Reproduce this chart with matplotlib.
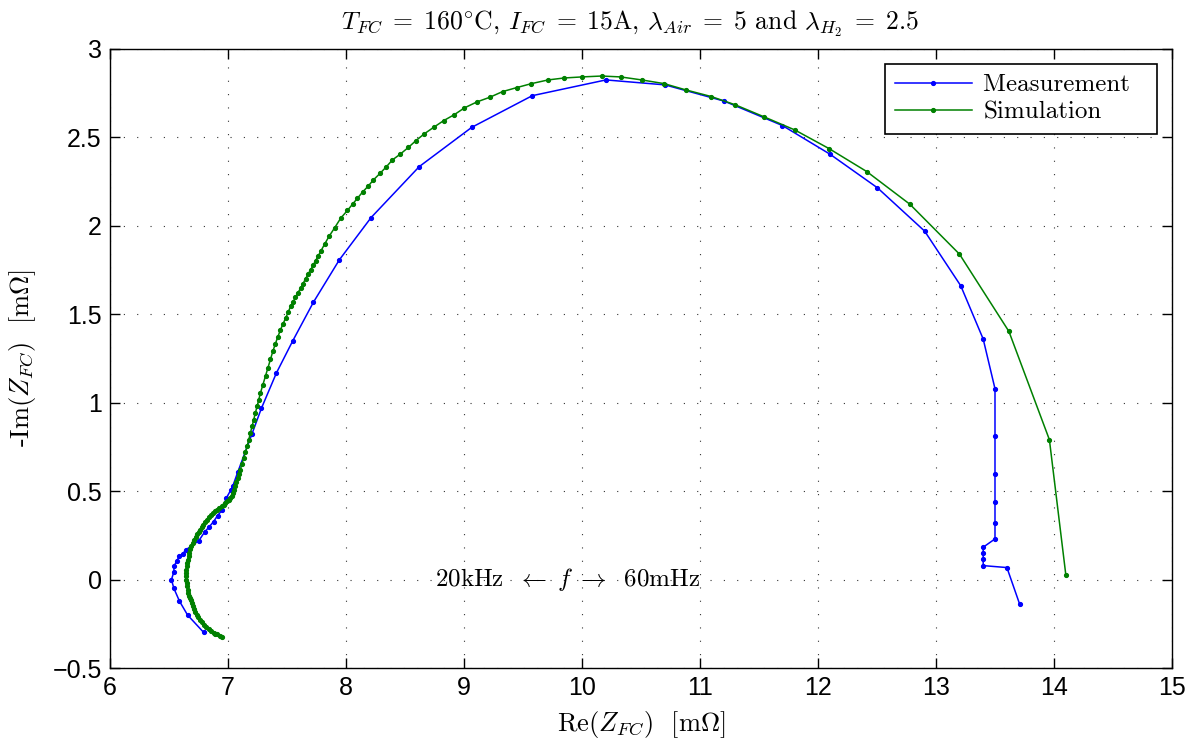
import matplotlib
matplotlib.use('Agg')
import matplotlib.pyplot as plt

# =====================================================
# DATA
# =====================================================

meas_re = [6.793, 6.657, 6.589, 6.541, 6.521, 6.541, 6.543, 6.566, 6.589, 6.617,
           6.645, 6.753, 6.804, 6.838, 6.878, 6.912, 6.949, 6.986, 7.025, 7.042,
           7.082, 7.204, 7.283, 7.411, 7.549, 7.723, 7.944, 8.213, 8.621, 9.066,
           9.579, 10.203, 10.704, 11.206, 11.699, 12.102, 12.504, 12.904, 13.21, 13.4,
           13.5, 13.5, 13.5, 13.5, 13.5, 13.5, 13.4, 13.4, 13.4, 13.4,
           13.601, 13.709]
meas_im = [-0.298, -0.200, -0.122, -0.049, 0.0, 0.043, 0.075, 0.107, 0.132, 0.147,
           0.169, 0.220, 0.271, 0.296, 0.328, 0.362, 0.392, 0.461, 0.508, 0.531,
           0.606, 0.825, 0.968, 1.169, 1.35, 1.567, 1.808, 2.047, 2.335, 2.557,
           2.736, 2.825, 2.797, 2.705, 2.567, 2.405, 2.215, 1.970, 1.661, 1.360,
           1.079, 0.812, 0.595, 0.437, 0.322, 0.230, 0.183, 0.151, 0.115, 0.079,
           0.068, -0.139]

sim_re = [6.949, 6.93, 6.91, 6.894, 6.878, 6.856, 6.835, 6.814, 6.793, 6.776,
          6.76, 6.748, 6.736, 6.724, 6.713, 6.703, 6.694, 6.686, 6.678, 6.671,
          6.665, 6.659, 6.654, 6.649, 6.645, 6.645, 6.646, 6.648, 6.651, 6.655,
          6.66, 6.666, 6.673, 6.681, 6.69, 6.701, 6.713, 6.725, 6.738, 6.751,
          6.764, 6.778, 6.792, 6.806, 6.821, 6.838, 6.855, 6.873, 6.892, 6.91,
          6.928, 6.946, 6.963, 6.978, 6.993, 7.007, 7.020, 7.032, 7.043, 7.053,
          7.062, 7.072, 7.083, 7.094, 7.105, 7.119, 7.133, 7.148, 7.162, 7.176,
          7.19, 7.204, 7.218, 7.232, 7.247, 7.261, 7.275, 7.296, 7.318, 7.339,
          7.360, 7.38, 7.40, 7.422, 7.445, 7.467, 7.49, 7.51, 7.530, 7.551,
          7.572, 7.593, 7.615, 7.636, 7.657, 7.678, 7.700, 7.721, 7.742, 7.763,
          7.785, 7.82, 7.856, 7.905, 7.955, 8.012, 8.057, 8.097, 8.142, 8.190,
          8.233, 8.289, 8.338, 8.394, 8.459, 8.528, 8.593, 8.663, 8.743, 8.828,
          8.919, 9.004, 9.111, 9.219, 9.327, 9.449, 9.571, 9.713, 9.849, 10.0,
          10.166, 10.327, 10.506, 10.696, 10.883, 11.096, 11.300, 11.544, 11.804, 12.093,
          12.413, 12.779, 13.199, 13.618, 13.961, 14.100]
sim_im = [-0.324, -0.318, -0.31, -0.306, -0.301, -0.291, -0.28, -0.268, -0.254, -0.240,
          -0.226, -0.212, -0.198, -0.182, -0.165, -0.148, -0.132, -0.118, -0.104, -0.090,
          -0.075, -0.057, -0.038, -0.019, 0.0, 0.019, 0.038, 0.057, 0.075, 0.094,
          0.113, 0.132, 0.151, 0.171, 0.19, 0.208, 0.226, 0.241, 0.255, 0.269,
          0.282, 0.297, 0.311, 0.325, 0.339, 0.352, 0.364, 0.375, 0.386, 0.396,
          0.406, 0.415, 0.424, 0.433, 0.442, 0.451, 0.461, 0.475, 0.49, 0.508,
          0.527, 0.55, 0.572, 0.597, 0.621, 0.654, 0.687, 0.72, 0.753, 0.79,
          0.828, 0.866, 0.904, 0.942, 0.98, 1.018, 1.055, 1.102, 1.15, 1.198,
          1.247, 1.29, 1.33, 1.372, 1.412, 1.447, 1.48, 1.512, 1.544, 1.57,
          1.596, 1.622, 1.647, 1.674, 1.70, 1.726, 1.751, 1.777, 1.803, 1.829,
          1.855, 1.898, 1.940, 1.99, 2.043, 2.087, 2.124, 2.156, 2.192, 2.226,
          2.260, 2.297, 2.331, 2.373, 2.405, 2.443, 2.482, 2.520, 2.557, 2.595,
          2.629, 2.667, 2.701, 2.727, 2.759, 2.782, 2.804, 2.825, 2.836, 2.842,
          2.847, 2.842, 2.825, 2.804, 2.768, 2.731, 2.684, 2.616, 2.542, 2.437,
          2.307, 2.122, 1.840, 1.403, 0.791, 0.028]

x_ticks = [6, 7, 8, 9, 10, 11, 12, 13, 14, 15]
y_ticks = [-0.5, 0, 0.5, 1, 1.5, 2, 2.5, 3]
y_tick_labels = ['\u22120.5', '0', '0.5', '1', '1.5', '2', '2.5', '3']

# =====================================================
# STYLE
# =====================================================

plt.rcParams['mathtext.fontset'] = 'cm'
serif = 'cmr10'

fig = plt.figure(figsize=(11.89, 7.42), dpi=100)
ax = fig.add_axes([0.0925, 0.0997, 0.8932, 0.8343])

# =====================================================
# PLOT
# =====================================================

ax.plot(meas_re, meas_im, color='#0000ff', lw=1.1, marker='.', markersize=5.5,
        label='Measurement  ')
ax.plot(sim_re, sim_im, color='#008000', lw=1.1, marker='.', markersize=5.5,
        label='Simulation')

ax.set_xlim(6, 15)
ax.set_ylim(-0.5, 3)
ax.set_xticks(x_ticks)
ax.set_yticks(y_ticks)
ax.set_xticklabels([str(t) for t in x_ticks])
ax.set_yticklabels(y_tick_labels)

for lab in ax.get_xticklabels() + ax.get_yticklabels():
    lab.set_family('Liberation Sans')
    lab.set_fontsize(18)

ax.tick_params(direction='in', length=7, width=1, top=True, right=True, pad=6)
ax.grid(True, color='0.2', linestyle=(0, (1, 11)), linewidth=0.8)
for sp in ax.spines.values():
    sp.set_linewidth(1)

ax.text(9.88, 0.0, r'20kHz $\;\leftarrow\; f \;\rightarrow\;$ 60mHz', ha='center',
        va='center', family=serif, fontsize=18)

ax.set_xlabel(r'Re($Z_{FC}$)  [m$\Omega$]', family=serif, fontsize=19, labelpad=6)
ax.set_ylabel(r'-Im($Z_{FC}$)  [m$\Omega$]', family=serif, fontsize=19, labelpad=10)
ax.set_title(r'$T_{FC}\;=\;160^{\circ}$C, $I_{FC}\;=\;15$A, '
             r'$\lambda_{Air}\;=\;5$ and $\lambda_{H_2}\;=\;2.5$',
             family=serif, fontsize=18.5, pad=14, x=0.49)

leg = ax.legend(loc='upper right', prop={'family': serif, 'size': 18},
                fancybox=False, framealpha=1, edgecolor='k', handlelength=3.1,
                handletextpad=0.45, borderaxespad=0.6, labelspacing=0.2,
                borderpad=0.4)
leg.get_frame().set_linewidth(1.2)

plt.savefig('out.png', dpi=100)
plt.close()
